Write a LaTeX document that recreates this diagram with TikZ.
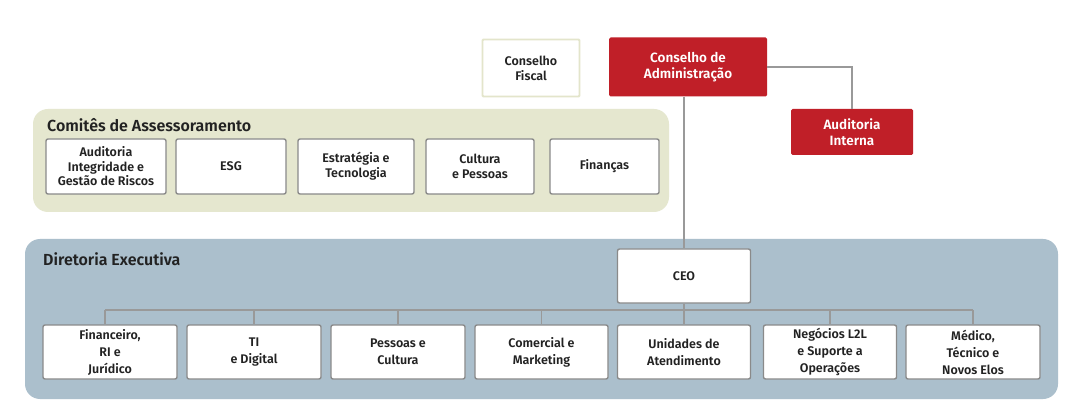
\documentclass[tikz,border=0pt]{standalone}
\usepackage{fontspec}
\IfFontExistsTF{Fira Sans SemiBold}{%
  \setmainfont{Fira Sans}[BoldFont={Fira Sans SemiBold}]}{%
  \setmainfont{Fira Sans}}
\definecolor{redbox}{HTML}{C01F28}
\definecolor{paneltan}{HTML}{E5E7CF}
\definecolor{panelblue}{HTML}{ABBFCC}
\definecolor{boxline}{HTML}{8A8A8A}
\definecolor{conline}{HTML}{999999}
\definecolor{fiscline}{HTML}{E3E5CB}
\definecolor{txt}{HTML}{222222}
\tikzset{
  panel/.style={rounded corners=15pt, draw=none},
  whitebox/.style={draw=boxline, line width=1.4pt, fill=white, rounded corners=2pt,
     align=center, text=txt, font=\bfseries\fontsize{12.5}{15}\selectfont,
     inner sep=0pt},
  dirbox/.style={whitebox, minimum height=54pt, font=\bfseries\fontsize{12.5}{17}\selectfont},
  redbx/.style={draw=none, fill=redbox, rounded corners=1.5pt, align=center,
     text=white, font=\bfseries\fontsize{13.5}{15.5}\selectfont, inner sep=0pt},
  conn/.style={draw=conline, line width=1.4pt},
  paneltitle/.style={anchor=west, text=txt, font=\bfseries\fontsize{16}{18}\selectfont, inner sep=0pt}
}
\begin{document}
\begin{tikzpicture}[x=1pt,y=-1pt]
\useasboundingbox (0,0) rectangle (1073,403);
\fill[white] (0,0) rectangle (1073,403);
% panels
\fill[panel, fill=paneltan] (33,109) rectangle (669,212);
\node[paneltitle] (ttl1) at (47,125) {Comitês de Assessoramento};
\fill[panel, fill=panelblue] (25,239) rectangle (1058,399);
\node[paneltitle] (ttl2) at (43,259) {Diretoria Executiva};

% top
\node[whitebox, draw=fiscline, line width=1.8pt, rounded corners=1pt, minimum width=97pt, minimum height=57pt] (cf) at (531,68) {Conselho\\Fiscal};
\node[redbx, minimum width=158pt, minimum height=59pt] (ca) at (688,67) {Conselho de\\Administração};
\node[redbx, minimum width=122pt, minimum height=46pt] (ai) at (852,132) {Auditoria\\Interna};

% committees
\node[whitebox, minimum width=120pt, minimum height=55pt, font=\bfseries\fontsize{12.5}{14.5}\selectfont] (k1) at (106,166.5) {Auditoria\\Integridade e\\Gestão de Riscos};
\node[whitebox, minimum width=110pt, minimum height=55pt] (k2) at (231,166.5) {ESG};
\node[whitebox, minimum width=116pt, minimum height=55pt] (k3) at (356,166.5) {Estratégia e\\Tecnologia};
\node[whitebox, minimum width=108pt, minimum height=55pt] (k4) at (480,166.5) {Cultura\\e Pessoas};
\node[whitebox, minimum width=109pt, minimum height=55pt] (k5) at (604.5,166.5) {Finanças};

% CEO
\node[whitebox, minimum width=133pt, minimum height=54pt] (ceo) at (684,276) {CEO};

% directors
\node[dirbox, minimum width=134pt] (d1) at (110,352) {Financeiro,\\RI e\\Jurídico};
\node[dirbox, minimum width=134pt] (d2) at (254,352) {TI\\e Digital};
\node[dirbox, minimum width=134pt] (d3) at (398,352) {Pessoas e\\Cultura};
\node[dirbox, minimum width=133pt] (d4) at (541.5,352) {Comercial e\\Marketing};
\node[dirbox, minimum width=133pt] (d5) at (684,352) {Unidades de\\Atendimento};
\node[dirbox, minimum width=133pt] (d6) at (830,352) {Negócios L2L\\e Suporte a\\Operações};
\node[dirbox, minimum width=134pt] (d7) at (973,352) {Médico,\\Técnico e\\Novos Elos};

% connectors
\coordinate (b1) at (105,310);
\coordinate (b7) at (973,310);
\draw[conn] (ca.east) -| (ai.north);
\draw[conn] (ca.south -| ceo.north) -- (ceo.north);
\draw[conn] (ceo.south) -- (d5.north);
\draw[conn] (b1) -- (b7);
\draw[conn] (b1) -- (b1 |- d1.north);
\draw[conn] (d2.north |- b1) -- (d2.north);
\draw[conn] (d3.north |- b1) -- (d3.north);
\draw[conn] (d4.north |- b1) -- (d4.north);
\draw[conn] (d6.north |- b1) -- (d6.north);
\draw[conn] (b7) -- (d7.north);
\end{tikzpicture}
\end{document}
